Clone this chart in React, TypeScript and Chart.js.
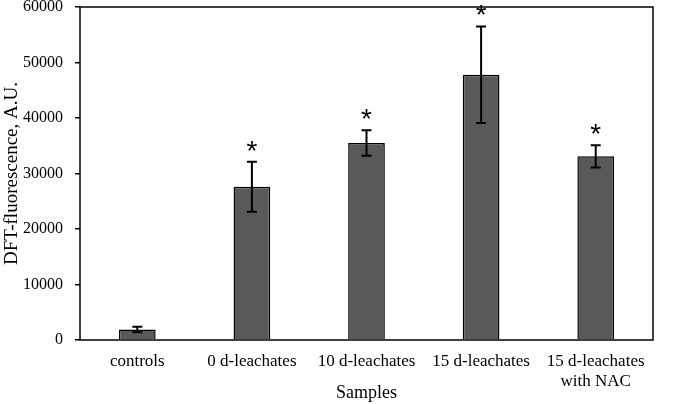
import React, { useEffect, useRef } from "react";
import { Chart, registerables } from "chart.js";

Chart.register(...registerables);

const categories: (string | string[])[] = [
  "controls",
  "0 d-leachates",
  "10 d-leachates",
  "15 d-leachates",
  ["15 d-leachates", "with NAC"],
];
const means = [1900, 27600, 35500, 47800, 33100];
const errors = [500, 4500, 2300, 8700, 2000];
const marks = ["", "*", "*", "*", "*"];
const yTicks = [0, 10000, 20000, 30000, 40000, 50000, 60000];

const SERIF = "'Liberation Serif', 'Times New Roman', serif";

const overlay = {
  id: "overlay",
  afterDatasetsDraw(chart: any) {
    const ctx = chart.ctx;
    const x = chart.scales.x;
    const y = chart.scales.y;
    const a = chart.chartArea;
    ctx.save();
    // frame
    ctx.strokeStyle = "#000";
    ctx.lineWidth = 1.5;
    ctx.strokeRect(a.left, a.top, a.right - a.left, a.bottom - a.top);
    // error bars
    ctx.lineWidth = 2;
    means.forEach((m, i) => {
      const cx = x.getPixelForValue(i);
      const yt = y.getPixelForValue(m + errors[i]);
      const yb = y.getPixelForValue(m - errors[i]);
      ctx.beginPath();
      ctx.moveTo(cx, yt);
      ctx.lineTo(cx, yb);
      ctx.moveTo(cx - 5, yt);
      ctx.lineTo(cx + 5, yt);
      ctx.moveTo(cx - 5, yb);
      ctx.lineTo(cx + 5, yb);
      ctx.stroke();
      if (marks[i]) {
        ctx.fillStyle = "#000";
        ctx.font = "28px 'Liberation Sans', Arial, sans-serif";
        ctx.textAlign = "center";
        ctx.textBaseline = "alphabetic";
        ctx.fillText(marks[i], cx, yt - 2);
      }
    });
    ctx.restore();
  },
};

export default function App() {
  const ref = useRef<HTMLCanvasElement>(null);
  useEffect(() => {
    document.body.style.margin = "0";
    const chart = new Chart(ref.current!, {
      type: "bar",
      data: {
        labels: categories as any,
        datasets: [
          {
            data: means,
            backgroundColor: "#595959",
            borderColor: "#000",
            borderWidth: 1.5,
            barPercentage: 0.32,
            categoryPercentage: 1,
          },
        ],
      },
      plugins: [overlay],
      options: {
        animation: false,
        responsive: false,
        devicePixelRatio: 1,
        layout: { padding: { top: 7, right: 31, left: 0, bottom: 0 } },
        plugins: { legend: { display: false }, tooltip: { enabled: false } },
        scales: {
          x: {
            grid: { display: false, drawTicks: false },
            border: { display: false },
            ticks: {
              color: "#000",
              font: { family: SERIF, size: 17 },
              padding: 11,
              maxRotation: 0,
              autoSkip: false,
            },
            title: {
              display: true,
              text: "Samples",
              color: "#000",
              font: { family: SERIF, size: 18 },
              padding: { top: 0, bottom: 0 },
            },
            afterFit: (s: any) => {
              s.height = 64;
              s.paddingLeft = 0;
              s.paddingRight = 0;
            },
          },
          y: {
            min: 0,
            max: 60000,
            afterBuildTicks: (s: any) => {
              s.ticks = yTicks.map((v) => ({ value: v }));
            },
            grid: {
              drawOnChartArea: false,
              drawTicks: true,
              tickLength: 5,
              color: "#000",
              lineWidth: 1.5,
            },
            border: { display: false },
            ticks: {
              color: "#000",
              font: { family: SERIF, size: 16 },
              padding: 12,
              callback: (v: any) => String(v),
            },
            title: {
              display: true,
              text: "DFT-fluorescence, A.U.",
              color: "#000",
              font: { family: SERIF, size: 19 },
              padding: { top: 1, bottom: 2 },
            },
            afterFit: (s: any) => {
              s.width = 80;
              s.paddingTop = 0;
              s.paddingBottom = 0;
            },
          },
        },
      },
    });
    return () => chart.destroy();
  }, []);
  return (
    <div style={{ width: 684, height: 404, background: "#fff" }}>
      <canvas ref={ref} width={684} height={404} />
    </div>
  );
}
